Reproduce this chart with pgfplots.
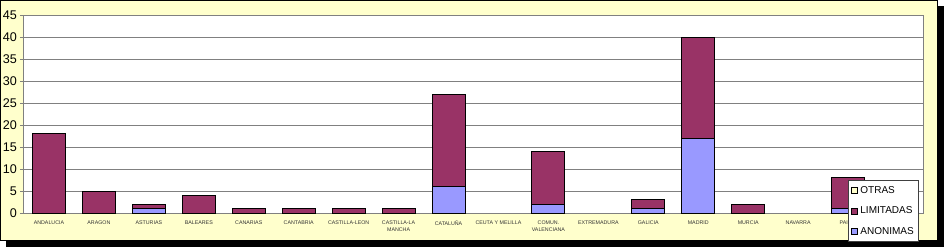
\documentclass[border=0pt]{standalone}
\usepackage{pgfplots}
\usepackage{pgfplotstable}
\pgfplotsset{compat=1.18}
\usepackage{fontspec}
\setmainfont{Liberation Sans}
\definecolor{lim}{HTML}{993366}
\definecolor{anon}{HTML}{9999FF}
\definecolor{otras}{HTML}{FFFFCC}
\definecolor{bgy}{HTML}{FFFFCC}
\definecolor{gridg}{HTML}{808080}

\pgfplotstableread{
x anon lim
0 0 18
1 0 5
2 1 1
3 0 4
4 0 1
5 0 1
6 0 1
7 0 1
8 6 21
9 0 0
10 2 12
11 0 0
12 1 2
13 17 23
14 0 2
15 0 0
16 1 7
17 0 0
}\datatable

\begin{document}
\begin{tikzpicture}[x=1pt,y=1pt]
\useasboundingbox (0,0) rectangle (944,247);
\fill[black] (6,0) rectangle (944,241);
\filldraw[fill=bgy,draw=black,line width=1pt] (0.5,6.5) rectangle (937.5,246.5);
\begin{axis}[
  at={(24pt,34pt)}, anchor=south west,
  scale only axis, width=899pt, height=198pt,
  ybar stacked, bar width=33pt,
  xmin=-0.5, xmax=17.5, ymin=0, ymax=45,
  ytick={0,5,...,45},
  xtick={0,...,17},
  xticklabels={ANDALUCIA, ARAGON, ASTURIAS, BALEARES, CANARIAS, CANTABRIA, CASTILLA-LEON, {CASTILLA-LA\\MANCHA}, CATALUÑA, CEUTA Y MELILLA, {COMUN.\\VALENCIANA}, EXTREMADURA, GALICIA, MADRID, MURCIA, NAVARRA, PAIS V, {}},
  axis background/.style={fill=white},
  axis line style={gridg, line width=1pt},
  ymajorgrids, major grid style={gridg, line width=1pt},
  tick pos=left, tick align=outside,
  major tick length=4pt,
  ytick style={gridg, line width=1pt},
  xtick style={draw=none},
  /pgf/number format/assume math mode=true,
  yticklabel style={font=\fontsize{12.6}{13}\selectfont, inner sep=1pt, xshift=-2pt},
  xticklabel style={font=\fontsize{5.3}{7}\selectfont, align=center, inner sep=0pt, yshift=-4pt, text=black!80},
  legend style={at={(0.9166,0.1667)}, anchor=north west, draw=black!75, line width=0.8pt, fill=white,
    font=\fontsize{10}{12}\selectfont, inner ysep=4pt, inner xsep=3pt, row sep=8pt, legend cell align=left},
  reverse legend,
  legend image code/.code={\draw[#1, line width=1pt, draw=black] (0pt,-3pt) rectangle (6pt,3pt);},
  every axis plot/.append style={draw=black, line width=1pt},
]
\addplot[fill=anon] table[x=x, y=anon] {\datatable};
\addplot[fill=lim] table[x=x, y=lim] {\datatable};
\addlegendimage{fill=otras}
\legend{ANONIMAS, LIMITADAS, OTRAS}
\end{axis}
\end{tikzpicture}
\end{document}
